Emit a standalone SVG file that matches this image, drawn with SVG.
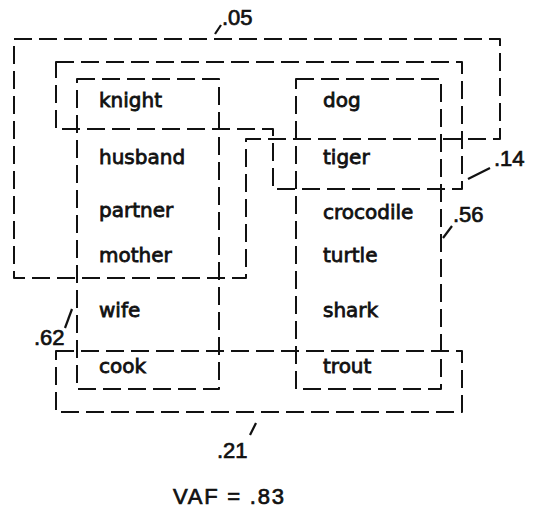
<svg xmlns="http://www.w3.org/2000/svg" width="538" height="519" viewBox="0 0 538 519">
<style>
.cl{fill:none;stroke:#111;stroke-width:2;stroke-dasharray:18 7;stroke-linejoin:round}
.w{font-family:"DejaVu Sans",sans-serif;font-size:20px;fill:#111;stroke:#111;stroke-width:0.8}
.n{font-family:"Liberation Sans",Arial,sans-serif;font-size:22px;fill:#111;stroke:#111;stroke-width:0.7}
.ld{stroke:#111;stroke-width:2.2;fill:none}
</style>
<rect width="538" height="519" fill="#fff"/>
<g id="clusters">
<polygon id="c05" class="cl" points="14,39 500,39 500,139 246,139 246,278 14,278"/>
<polygon id="c14" class="cl" points="56,62 462,62 462,189 273,189 273,129 56,129"/>
<rect id="c62" class="cl" x="77" y="79" width="142" height="310"/>
<rect id="c56" class="cl" x="296" y="79" width="145" height="310"/>
<rect id="c21" class="cl" x="56" y="351" width="406" height="61"/>
</g>
<g id="knight"><text class="w" x="99" y="107">knight</text></g>
<g id="husband"><text class="w" x="99" y="164">husband</text></g>
<g id="partner"><text class="w" x="99" y="217">partner</text></g>
<g id="mother"><text class="w" x="99" y="262">mother</text></g>
<g id="wife"><text class="w" x="99" y="317">wife</text></g>
<g id="cook"><text class="w" x="99" y="373">cook</text></g>
<g id="dog"><text class="w" x="323" y="107">dog</text></g>
<g id="tiger"><text class="w" x="323" y="164">tiger</text></g>
<g id="crocodile"><text class="w" x="323" y="219">crocodile</text></g>
<g id="turtle"><text class="w" x="323" y="262">turtle</text></g>
<g id="shark"><text class="w" x="323" y="317">shark</text></g>
<g id="trout"><text class="w" x="323" y="373">trout</text></g>
<g id="connectors">
<line class="ld" x1="215" y1="34" x2="221" y2="25"/>
<line class="ld" x1="468" y1="179" x2="490" y2="168"/>
<line class="ld" x1="443" y1="238" x2="452" y2="226"/>
<line class="ld" x1="65" y1="328" x2="72" y2="309"/>
<line class="ld" x1="250" y1="435" x2="256" y2="423"/>
</g>
<g id="labels">
<text class="n" x="222" y="25">.05</text>
<text class="n" x="494" y="166">.14</text>
<text class="n" x="453" y="222">.56</text>
<text class="n" x="34" y="345">.62</text>
<text class="n" x="217" y="458">.21</text>
<text class="n" x="173" y="504" font-size="23" textLength="111" lengthAdjust="spacing">VAF = .83</text>
</g>
</svg>
